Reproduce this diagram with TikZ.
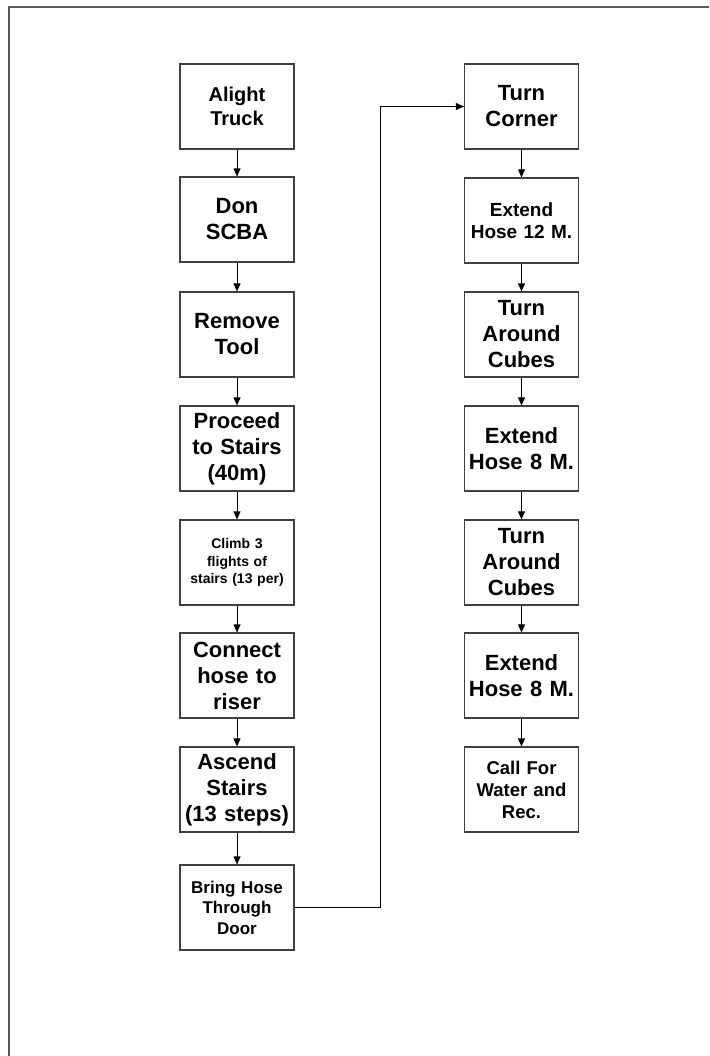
\documentclass[tikz,border=0pt]{standalone}
\usepackage{fontspec}
\setmainfont{Liberation Sans}
\usetikzlibrary{arrows.meta}
\newcommand{\fsz}[1]{\fontsize{#1}{#1*1.18}\selectfont}
\tikzset{
  stepbox/.style={draw=black!75, line width=1.2pt, rectangle, minimum width=114pt, minimum height=85pt,
    text width=114pt, inner sep=0pt, align=center, font=\bfseries\fontsize{22}{26}\selectfont},
  med/.style={font=\bfseries\fontsize{19}{22.5}\selectfont},
  smallish/.style={font=\bfseries\fontsize{17}{20.5}\selectfont},
  tiny/.style={font=\bfseries\fontsize{14}{17.5}\selectfont},
  arr/.style={draw=black, line width=0.9pt, -{Triangle[length=8pt,width=7pt]}},
  frame/.style={draw=black!65, line width=1.5pt}
}
\begin{document}
\begin{tikzpicture}[x=1pt,y=-1pt]
\useasboundingbox (0,0) rectangle (709,1056);
\draw[frame] (709,7) -- (9,7) -- (9,1056);
% left column
\node[stepbox, font=\bfseries\fontsize{20}{23.5}\selectfont] (b1) at (237,106.5) {Alight\\Truck};
\node[stepbox] (b2) at (237,219.5) {Don\\SCBA};
\node[stepbox] (b3) at (237,334.5) {Remove\\Tool};
\node[stepbox] (b4) at (237,448.5) {Proceed\\to Stairs\\(40m)};
\node[stepbox, tiny] (b5) at (237,562.5) {Climb 3\\flights of\\stairs (13 per)};
\node[stepbox] (b6) at (237,675.5) {Connect\\hose to\\riser};
\node[stepbox] (b7) at (237,789.5) {Ascend\\Stairs\\(13 steps)};
\node[stepbox, smallish] (b8) at (237,907.5) {Bring Hose\\Through\\Door};
% right column
\node[stepbox] (r1) at (521.5,106.5) {Turn\\Corner};
\node[stepbox, med] (r2) at (521.5,220.5) {Extend\\Hose 12 M.};
\node[stepbox] (r3) at (521.5,334.5) {Turn\\Around\\Cubes};
\node[stepbox] (r4) at (521.5,448.5) {Extend\\Hose 8 M.};
\node[stepbox] (r5) at (521.5,562.5) {Turn\\Around\\Cubes};
\node[stepbox] (r6) at (521.5,675.5) {Extend\\Hose 8 M.};
\node[stepbox, font=\bfseries\fontsize{18.5}{22}\selectfont] (r7) at (521.5,789.5) {Call For\\Water and\\Rec.};
% connectors
\foreach \a/\b in {b1/b2,b2/b3,b3/b4,b4/b5,b5/b6,b6/b7,b7/b8,r1/r2,r2/r3,r3/r4,r4/r5,r5/r6,r6/r7}
  \draw[arr] (\a.south) -- (\b.north);
\coordinate (bend) at (380,0);
\draw[arr] (b8.east) -- (b8.east -| bend) -- (bend |- r1.west) -- (r1.west);
\end{tikzpicture}
\end{document}
